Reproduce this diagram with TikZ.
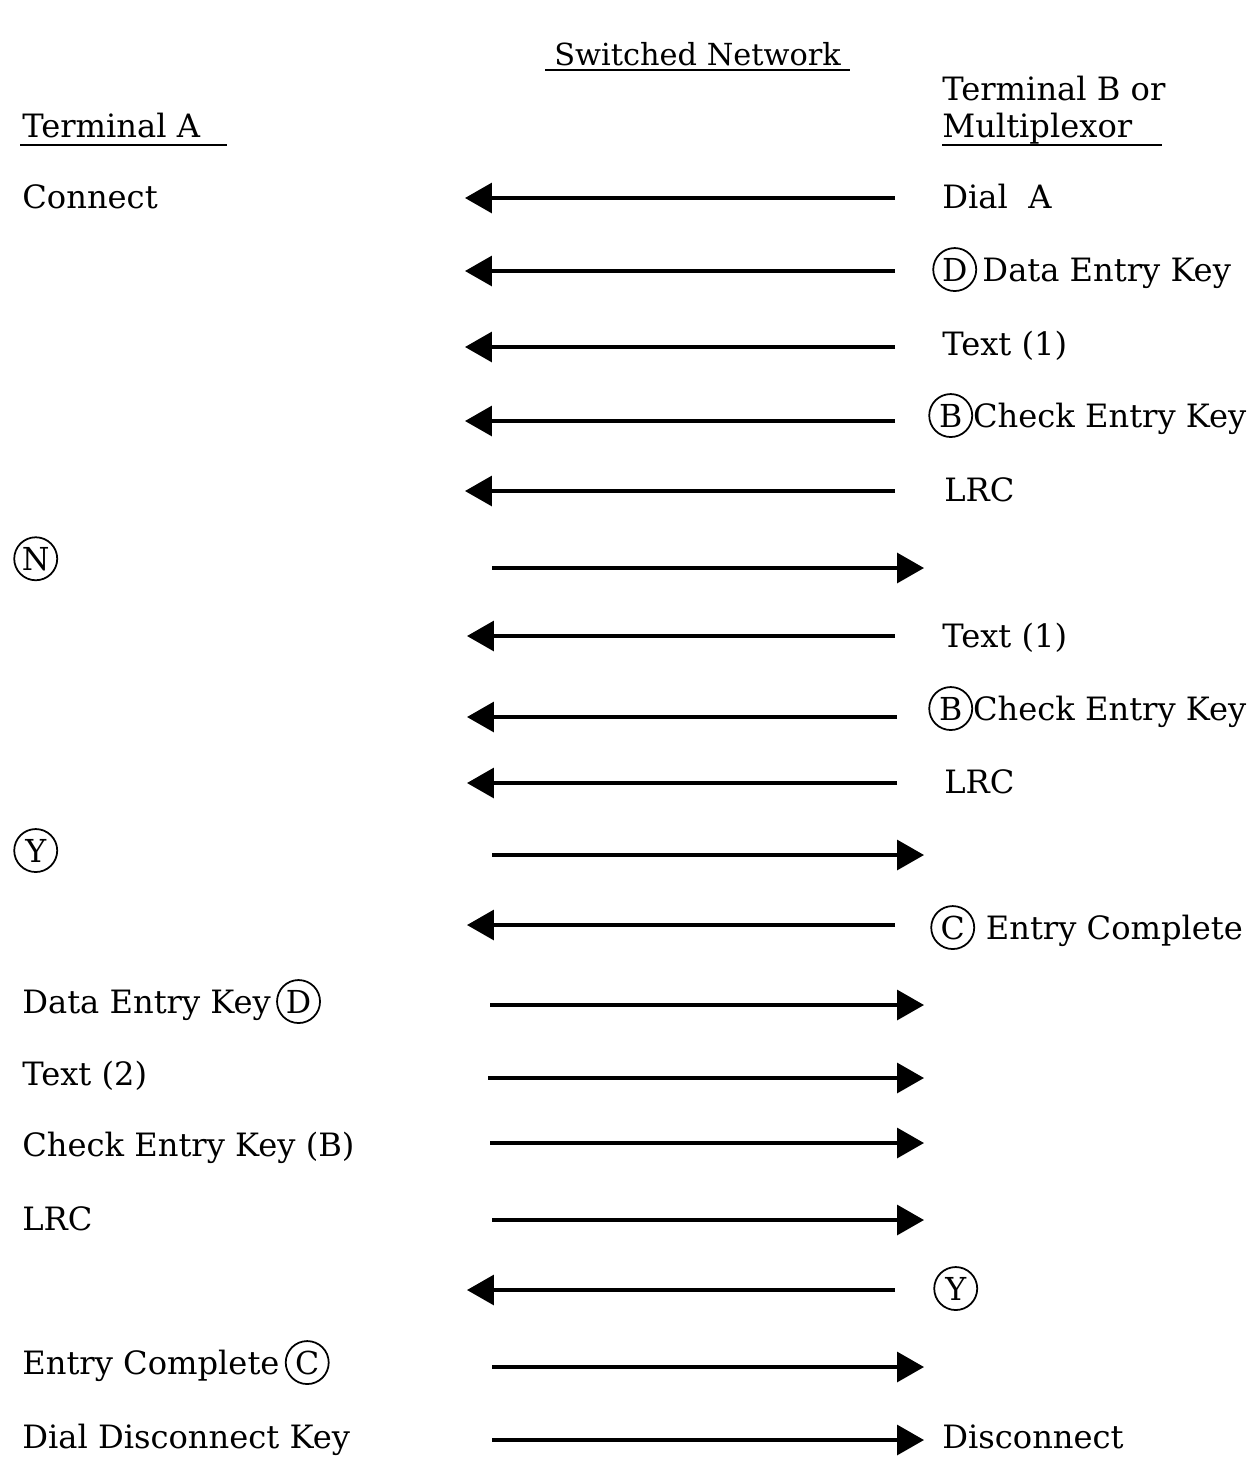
\documentclass[tikz,border=0pt]{standalone}
\usepackage{fontspec}
\setmainfont{DejaVu Serif}
\usepackage{tikz}
\usetikzlibrary{arrows.meta,positioning}

% circled letter used in the labels
\newcommand{\ring}[1]{\tikz[baseline=(r.base)]\node[circle,draw,line width=1pt,inner sep=0pt,minimum size=0.86cm,font=\fontsize{18}{21}\selectfont](r){#1};}

\begin{document}
\begin{tikzpicture}[x=0.02cm,y=-0.02cm,
    lbl/.style={anchor=mid west,inner sep=0pt,yshift=-0.11cm,font=\fontsize{18.3}{22}\selectfont},
    hdr/.style={anchor=base west,inner sep=0pt,font=\fontsize{18.3}{22}\selectfont},
    rule/.style={line width=1.6pt},
    msg/.style={line width=1.9pt,-{Triangle[length=0.54cm,width=0.6cm]}}]
    \useasboundingbox (0,0) rectangle (1256,1458);

    % Headings
    \node[hdr,font=\fontsize{17.3}{21}\selectfont] (net) at (554,65) {Switched Network};
    \draw[rule] (545,70) -- (850,70);
    \node[hdr] (ta) at (22,137) {Terminal A};
    \draw[rule] (20,145) -- (227,145);
    \node[hdr] (tb) at (942,100) {Terminal B or};
    \node[hdr] (mux) at (942,137) {Multiplexor};
    \draw[rule] (942,145) -- (1162,145);

    % Messages: source x / target x / y
    \foreach \n/\xs/\xt/\y in {1/895/465/198, 2/895/465/271, 3/895/465/347,
        4/895/465/421, 5/895/465/491, 6/492/924/568, 7/895/467/636,
        8/897/467/717, 9/897/467/783, 10/492/924/855, 11/895/467/925,
        12/490/924/1005, 13/488/924/1078, 14/490/924/1143, 15/492/924/1220,
        16/895/467/1290, 17/492/924/1367, 18/492/924/1440} {
        \coordinate (s\n) at (\xs,\y);
        \coordinate (t\n) at (\xt,\y);
        \draw[msg] (s\n) -- (t\n);
    }

    % Terminal A side
    \node[lbl] (a1) at (22,198) {Connect};
    \node[lbl] (a6) at (13,560) {\ring{N}};
    \node[lbl] (a10) at (13,852) {\ring{Y}};
    \node[lbl] (a12) at (22,1003) {Data Entry Key\,\ring{D}};
    \node[lbl] (a13) at (22,1075) {Text (2)};
    \node[lbl] (a14) at (22,1146) {Check Entry Key (B)};
    \node[lbl] (a15) at (22,1220) {LRC};
    \node[lbl] (a17) at (22,1364) {Entry Complete\,\ring{C}};
    \node[lbl] (a18) at (22,1438) {Dial Disconnect Key};

    % Terminal B side
    \node[lbl] (b1) at (942,198) {Dial\ \ A};
    \node[lbl] (b2) at (932,271) {\ring{D}\,Data Entry Key};
    \node[lbl] (b3) at (942,345) {Text (1)};
    \node[lbl] (b4) at (928,417) {\ring{B}Check Entry Key};
    \node[lbl] (b5) at (944,491) {LRC};
    \node[lbl] (b7) at (942,637) {Text (1)};
    \node[lbl] (b8) at (928,710) {\ring{B}Check Entry Key};
    \node[lbl] (b9) at (944,783) {LRC};
    \node[lbl] (b11) at (930,929) {\ring{C}\,\,Entry Complete};
    \node[lbl] (b16) at (933,1290) {\ring{Y}};
    \node[lbl] (b18) at (942,1438) {Disconnect};
\end{tikzpicture}
\end{document}
